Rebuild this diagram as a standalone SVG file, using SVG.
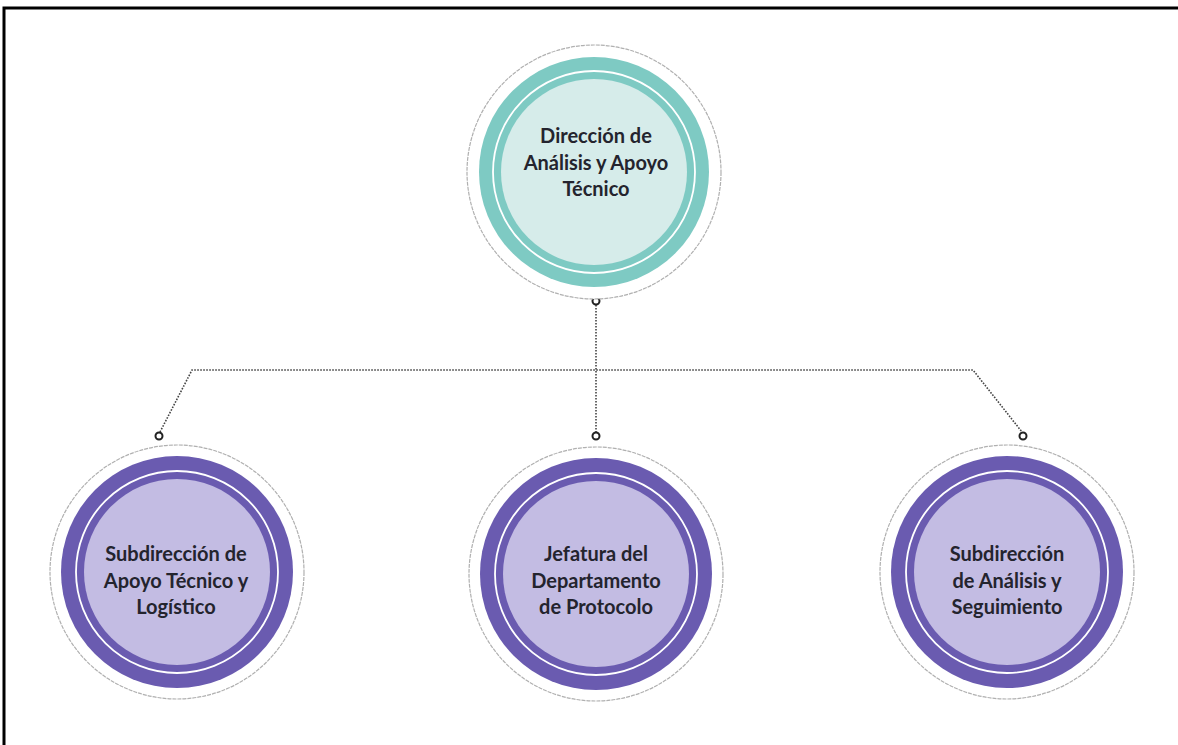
<svg xmlns="http://www.w3.org/2000/svg" width="1178" height="745" viewBox="0 0 1178 745">
<style>
.outer{fill:#fff;stroke:#b0b0b0;stroke-width:1.2;stroke-dasharray:4 1}
.tring{fill:#7ecac3}
.tin{fill:#d6ecea}
.pring{fill:#6a5bb0}
.pin{fill:#c3bce3}
.gap{fill:none;stroke:#fff;stroke-width:1.8}
.lbl{font-family:Lato,"Liberation Sans",sans-serif;font-weight:700;font-size:20px;fill:#24242e;text-anchor:middle}
.conn{fill:none;stroke:#444;stroke-width:1.6;stroke-dasharray:1.6 1.4}
.dot{fill:#fff;stroke:#222;stroke-width:2}
</style>
<rect width="1178" height="745" fill="#fff"/>
<path d="M4,745 V8 H1178" fill="none" stroke="#000" stroke-width="3"/>
<g id="connectors">
<path class="conn" d="M596,305 V432"/>
<path class="conn" d="M160,432 L192,370 H973 L1022,432"/>
<circle class="dot" cx="596" cy="301" r="3.5"/>
<circle class="dot" cx="159" cy="436" r="3.5"/>
<circle class="dot" cx="596" cy="436" r="3.5"/>
<circle class="dot" cx="1023" cy="436" r="3.5"/>
</g>
<g id="node-direccion">
<circle class="outer" cx="594" cy="172" r="127"/>
<circle class="tring" cx="594" cy="172" r="115"/>
<circle class="gap" cx="594" cy="172" r="101"/>
<circle class="tin" cx="594" cy="172" r="93"/>
<text class="lbl" x="596" y="143">Dirección de</text>
<text class="lbl" x="596" y="170">Análisis y Apoyo</text>
<text class="lbl" x="596" y="196">Técnico</text>
</g>
<g id="node-subdireccion-apoyo">
<circle class="outer" cx="177" cy="572" r="127"/>
<circle class="pring" cx="177" cy="572" r="116"/>
<circle class="gap" cx="177" cy="572" r="101"/>
<circle class="pin" cx="177" cy="572" r="93"/>
<text class="lbl" x="176" y="561">Subdirección de</text>
<text class="lbl" x="176" y="588">Apoyo Técnico y</text>
<text class="lbl" x="176" y="614">Logístico</text>
</g>
<g id="node-jefatura">
<circle class="outer" cx="596" cy="574" r="127"/>
<circle class="pring" cx="596" cy="574" r="116"/>
<circle class="gap" cx="596" cy="574" r="101"/>
<circle class="pin" cx="596" cy="574" r="93"/>
<text class="lbl" x="596" y="561">Jefatura del</text>
<text class="lbl" x="596" y="588">Departamento</text>
<text class="lbl" x="596" y="614">de Protocolo</text>
</g>
<g id="node-subdireccion-analisis">
<circle class="outer" cx="1007" cy="572" r="127"/>
<circle class="pring" cx="1007" cy="572" r="116"/>
<circle class="gap" cx="1007" cy="572" r="101"/>
<circle class="pin" cx="1007" cy="572" r="93"/>
<text class="lbl" x="1007" y="561">Subdirección</text>
<text class="lbl" x="1007" y="588">de Análisis y</text>
<text class="lbl" x="1007" y="614">Seguimiento</text>
</g>
</svg>
